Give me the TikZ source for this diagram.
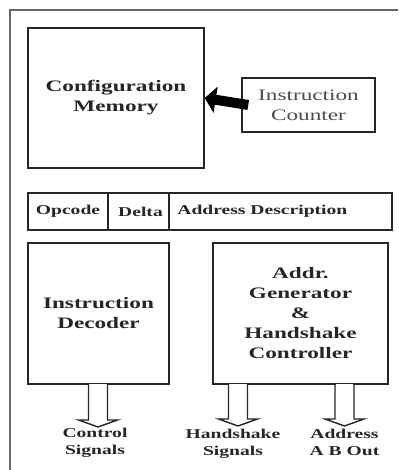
\documentclass[tikz,border=0pt]{standalone}
\usepackage{fontspec}
\setmainfont{Liberation Serif}[FakeStretch=1.45]
\usetikzlibrary{arrows.meta,calc}
\tikzset{
  blk/.style={draw=black!85, line width=1.5pt, fill=white, inner sep=0pt, anchor=center},
  bigtxt/.style={font=\fontsize{16}{20}\selectfont\bfseries, text=black!85, align=center},
  smalltxt/.style={font=\fontsize{13.5}{16.5}\selectfont\bfseries, text=black!85, align=center, inner sep=1pt},
  arrowline/.style={draw=black!85, line width=1.4pt, line join=miter},
  frame/.style={draw=black!60, line width=1.6pt}
}
\newcommand\hollowarrow[3]{%
  \fill[white] ($(#1.south -| #2)+(-8.7,-1.2)$) rectangle ($(#1.south -| #2)+(8.7,1.2)$);
  \draw[arrowline] ($(#1.south -| #2)+(-9.5,-0.8)$) -- ($(#3)+(-9.5,-7)$) -- ($(#3)+(-19.5,-7)$) -- (#3) -- ($(#3)+(19.5,-7)$) -- ($(#3)+(9.5,-7)$) -- ($(#1.south -| #2)+(9.5,-0.8)$);
}
\begin{document}
\begin{tikzpicture}[x=1pt,y=-1pt]
\useasboundingbox (0,0) rectangle (398,470);
\fill[white] (0,0) rectangle (398,470);
% outer frame
\coordinate (fbl) at (10,470);
\coordinate (ftl) at (10,10);
\coordinate (ftr) at (398,10);
\draw[frame] (fbl) -- (ftl) -- (ftr);
% configuration memory
\node[blk, minimum width=176pt, minimum height=140pt] (cm) at (116,98) {};
\node[bigtxt] (cmt) at (cm.center) {Configuration\\Memory};
% instruction counter
\node[blk, minimum width=133pt, minimum height=54pt] (ic) at (308.5,105) {};
\node[font=\fontsize{16}{20}\selectfont, text=black!70, align=center] (ict) at (ic.center) {Instruction\\Counter};
\draw[line width=10pt, black, -{Triangle[length=11pt,width=26pt]}] ($(ic.west)+(7,0)$) -- (cm.east);
% instruction word
\node[blk, minimum width=80pt, minimum height=37pt] (op) at (68,211.5) {};
\node[blk, minimum width=61pt, minimum height=37pt] (de) at (138.5,211.5) {};
\node[blk, minimum width=223pt, minimum height=37pt] (ad) at (280.5,211.5) {};
\node[smalltxt] (opt) at (op.center) {Opcode};
\node[smalltxt] (det) at ($(de.center)+(2,0)$) {Delta};
\node[smalltxt, anchor=west] (adt) at ($(ad.west)+(8,0)$) {Address Description};
% decoder and address generator
\node[blk, minimum width=141pt, minimum height=141pt] (dec) at (98.5,313.5) {};
\node[bigtxt] (dect) at (dec.center) {Instruction\\Decoder};
\node[blk, minimum width=175pt, minimum height=141pt] (agen) at (300.5,313.5) {};
\node[bigtxt] (agent) at (agen.center) {Addr.\\Generator\\\&\\Handshake\\Controller};
% outputs
\coordinate (t1) at (98,427);
\coordinate (t2) at (238,426);
\coordinate (t3) at (344.5,426);
\node[smalltxt, anchor=north] (l1) at ($(t1)+(-3,0)$) {Control\\Signals};
\node[smalltxt, anchor=north] (l2) at ($(t2)+(-5,2)$) {Handshake\\Signals};
\node[smalltxt, anchor=north] (l3) at ($(t3)+(0,2)$) {Address\\A B Out};
\hollowarrow{dec}{t1}{t1}
\hollowarrow{agen}{t2}{t2}
\hollowarrow{agen}{t3}{t3}
\end{tikzpicture}
\end{document}
